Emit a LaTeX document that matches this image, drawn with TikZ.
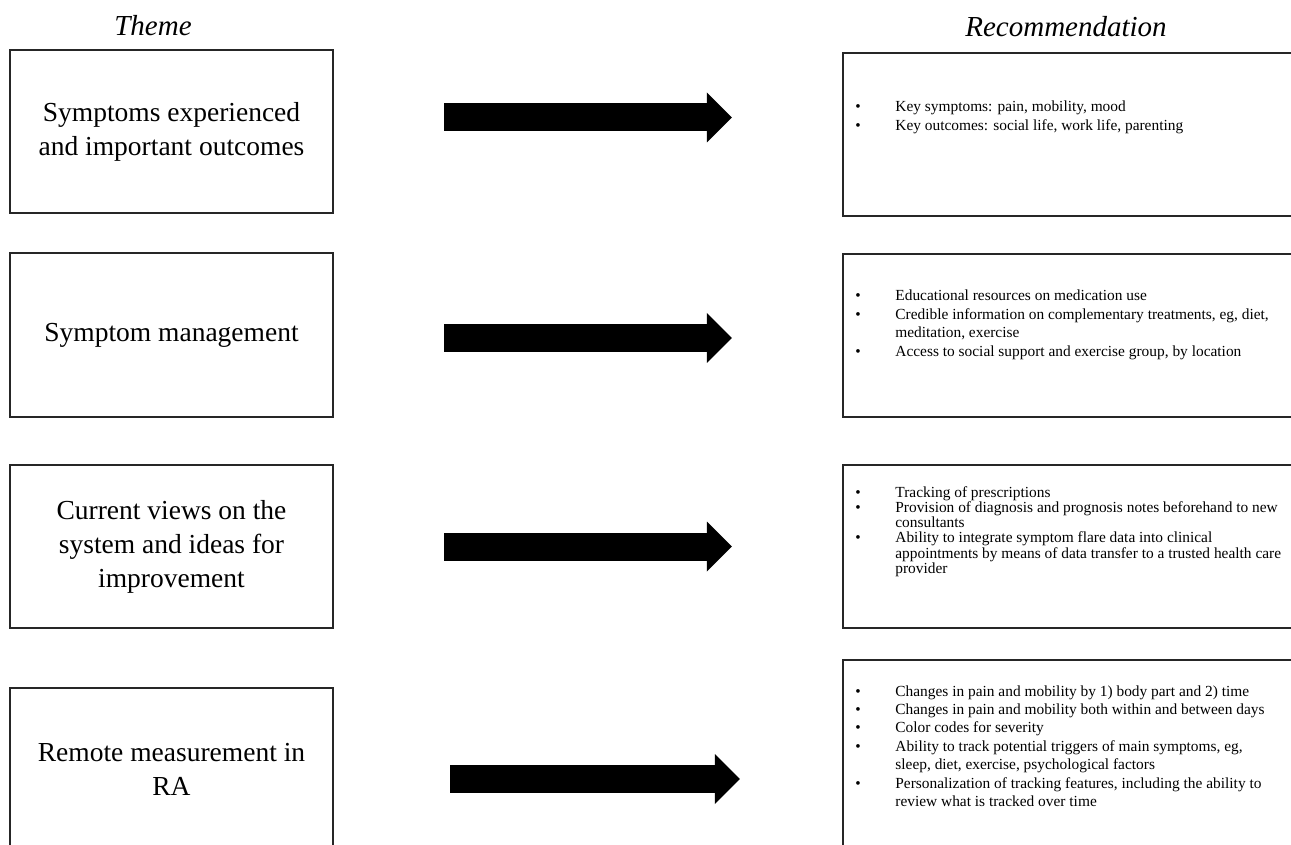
\documentclass[tikz,border=0pt]{standalone}
\usepackage{fontspec}
\setmainfont{Liberation Serif}
\usetikzlibrary{arrows.meta}

\begin{document}
\begin{tikzpicture}[x=0.5pt,y=-0.5pt,
    themebox/.style={draw=black!85,line width=1pt,minimum width=161.5pt,minimum height=81.5pt,
                     inner sep=0pt,align=center,font=\fontsize{13.75}{17}\selectfont},
    recbox/.style={draw=black!85,line width=1.2pt,minimum width=230pt,inner sep=0pt},
    rectext/.style={anchor=base west,inner sep=0pt,font=\fontsize{7.7}{9.2}\selectfont},
    heading/.style={anchor=base,inner sep=0pt,font=\fontsize{14.5}{17}\selectfont\itshape},
    fat/.style={line width=14pt,shorten <=55pt,shorten >=55pt,
                -{Triangle[length=12.5pt,width=25pt,line width=0pt]}}]

  \useasboundingbox (0,0) rectangle (1291,845);
  \clip (0,0) rectangle (1291,845);

  % headings
  \node[heading] (thead) at (153,36)  {Theme};
  \node[heading] (rhead) at (1066,37) {Recommendation};

  % themes
  \node[themebox] (th1) at (171.5,131.5) {Symptoms experienced\\and important outcomes};
  \node[themebox] (th2) at (171.5,335)   {Symptom management};
  \node[themebox] (th3) at (171.5,546.5) {Current views on the\\system and ideas for\\improvement};
  \node[themebox] (th4) at (171.5,769)   {Remote measurement in\\RA};

  % recommendations
  \node[recbox,minimum height=81.5pt] (rec1) at (1073,134.5) {};
  \node[recbox,minimum height=81.5pt] (rec2) at (1073,335.5) {};
  \node[recbox,minimum height=81.5pt] (rec3) at (1073,546.5) {};
  \node[recbox,minimum height=100pt]  (rec4) at (1073,760)   {};

  \node[rectext] (rec1txt) at (855,112) {\begin{tabular}[t]{@{}p{20pt}@{}l@{}}
    \textbullet & Key symptoms: pain, mobility, mood\\
    \textbullet & Key outcomes: social life, work life, parenting
  \end{tabular}};
  \node[rectext] (rec2txt) at (855,301) {\begin{tabular}[t]{@{}p{20pt}@{}l@{}}
    \textbullet & Educational resources on medication use\\
    \textbullet & Credible information on complementary treatments, eg, diet,\\
                & meditation, exercise\\
    \textbullet & Access to social support and exercise group, by location
  \end{tabular}};
  \node[rectext,font=\fontsize{7.7}{7.5}\selectfont] (rec3txt) at (855,497) {\begin{tabular}[t]{@{}p{20pt}@{}l@{}}
    \textbullet & Tracking of prescriptions\\
    \textbullet & Provision of diagnosis and prognosis notes beforehand to new\\
                & consultants\\
    \textbullet & Ability to integrate symptom flare data into clinical\\
                & appointments by means of data transfer to a trusted health care\\
                & provider
  \end{tabular}};
  \node[rectext] (rec4txt) at (855,696) {\begin{tabular}[t]{@{}p{20pt}@{}l@{}}
    \textbullet & Changes in pain and mobility by 1) body part and 2) time\\
    \textbullet & Changes in pain and mobility both within and between days\\
    \textbullet & Color codes for severity\\
    \textbullet & Ability to track potential triggers of main symptoms, eg,\\
                & sleep, diet, exercise, psychological factors\\
    \textbullet & Personalization of tracking features, including the ability to\\
                & review what is tracked over time
  \end{tabular}};

  % arrows
  \draw[fat] ([yshift=7pt]th1.east)    -- ([yshift=7pt]th1.east -| rec1.west);
  \draw[fat] ([yshift=-1.5pt]th2.east) -- ([yshift=-1.5pt]th2.east -| rec2.west);
  \draw[fat] (th3.east)                -- (th3.east -| rec3.west);
  \draw[fat,shorten <=58pt,shorten >=51pt] ([yshift=-5pt]th4.east) -- ([yshift=-5pt]th4.east -| rec4.west);

\end{tikzpicture}
\end{document}
